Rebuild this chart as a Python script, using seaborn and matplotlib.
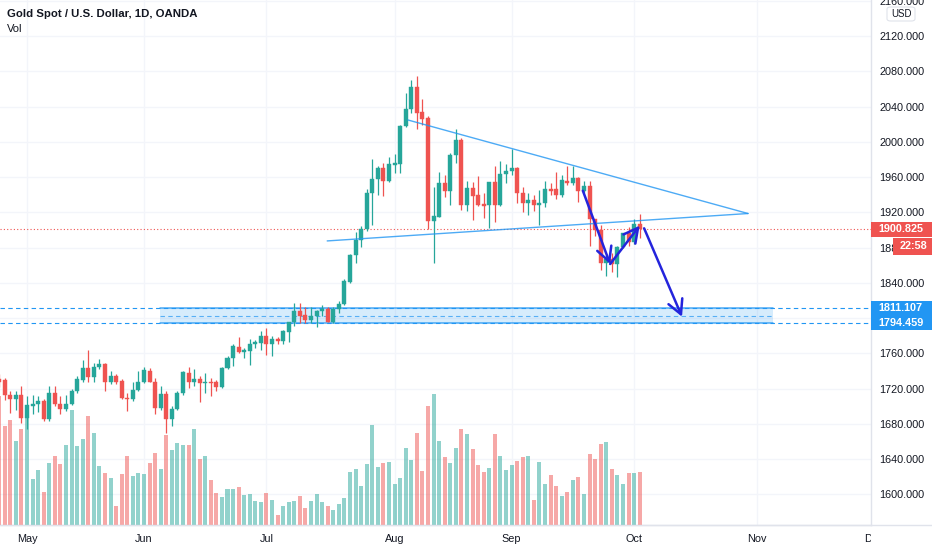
import numpy as np
import pandas as pd
import matplotlib
matplotlib.use("Agg")
import matplotlib.pyplot as plt
import seaborn as sns
from matplotlib.patches import Rectangle, FancyBboxPatch
from matplotlib.lines import Line2D
from matplotlib.ticker import FuncFormatter, FixedLocator

# ---------------- data ----------------
dates = pd.bdate_range("2020-04-24", "2020-10-02")

opens = [1731, 1730, 1713, 1708, 1713, 1687, 1700, 1702, 1706, 1685,
         1715, 1702, 1697, 1703, 1717, 1730, 1743, 1733, 1745, 1748,
         1727, 1734, 1729, 1709, 1708, 1718, 1728, 1740, 1728, 1698,
         1714, 1685, 1697, 1715, 1738, 1727, 1731, 1726, 1727, 1727,
         1722, 1743, 1755, 1767, 1762, 1763, 1771, 1772, 1780, 1770,
         1776, 1774, 1784, 1795, 1808, 1803, 1798, 1802, 1808, 1810,
         1796, 1810, 1816, 1841, 1871, 1888, 1901, 1942, 1958, 1970,
         1955, 1974, 1975, 2018, 2037, 2062, 2034, 2027, 1910, 1915,
         1953, 1944, 1985, 2002, 1928, 1947, 1940, 1929, 1928, 1954,
         1928, 1964, 1967, 1970, 1942, 1930, 1934, 1928, 1931, 1946,
         1946, 1940, 1956, 1953, 1959, 1944, 1950, 1912, 1900, 1862,
         1867, 1861, 1881, 1897, 1886, 1907]
highs = [1737, 1732, 1717, 1717, 1723, 1711, 1713, 1711, 1708, 1723,
         1723, 1712, 1713, 1719, 1734, 1752, 1764, 1749, 1754, 1749,
         1740, 1737, 1731, 1715, 1728, 1740, 1744, 1743, 1732, 1723,
         1717, 1700, 1717, 1740, 1745, 1742, 1734, 1738, 1732, 1730,
         1745, 1757, 1770, 1779, 1766, 1776, 1775, 1785, 1789, 1780,
         1778, 1787, 1796, 1817, 1817, 1813, 1813, 1809, 1815, 1813,
         1812, 1819, 1844, 1873, 1898, 1904, 1946, 1980, 1972, 1976,
         1983, 1986, 2019, 2055, 2070, 2075, 2048, 2029, 1949, 1966,
         1962, 1987, 2015, 2004, 1956, 1954, 1961, 1942, 1954, 1972,
         1978, 1975, 1992, 1971, 1949, 1942, 1940, 1945, 1956, 1953,
         1966, 1962, 1972, 1973, 1960, 1955, 1955, 1912, 1906, 1872,
         1874, 1882, 1897, 1903, 1912, 1918]
lows = [1722, 1707, 1692, 1696, 1681, 1674, 1691, 1693, 1683, 1683,
        1700, 1691, 1694, 1701, 1715, 1728, 1727, 1727, 1742, 1717,
        1725, 1725, 1708, 1694, 1706, 1717, 1726, 1727, 1691, 1696,
        1670, 1677, 1696, 1713, 1721, 1723, 1705, 1715, 1712, 1717,
        1721, 1742, 1746, 1760, 1755, 1747, 1766, 1764, 1758, 1757,
        1771, 1770, 1773, 1791, 1794, 1794, 1794, 1790, 1802, 1795,
        1794, 1806, 1815, 1840, 1863, 1881, 1899, 1906, 1940, 1938,
        1954, 1965, 1965, 2017, 2033, 2014, 2019, 1901, 1862, 1915,
        1937, 1928, 1976, 1923, 1922, 1911, 1927, 1914, 1902, 1909,
        1927, 1953, 1962, 1931, 1920, 1917, 1922, 1906, 1926, 1940,
        1935, 1937, 1951, 1951, 1932, 1942, 1882, 1893, 1855, 1848,
        1852, 1847, 1879, 1882, 1884, 1891]
closes = [1728, 1713, 1708, 1713, 1687, 1701, 1702, 1706, 1685, 1715,
          1702, 1697, 1703, 1717, 1731, 1743, 1733, 1745, 1748, 1727,
          1734, 1728, 1709, 1708, 1718, 1728, 1741, 1728, 1698, 1714,
          1685, 1697, 1715, 1739, 1727, 1731, 1726, 1728, 1726, 1722,
          1743, 1755, 1768, 1761, 1764, 1771, 1773, 1780, 1770, 1776,
          1774, 1785, 1795, 1808, 1802, 1798, 1802, 1808, 1810, 1796,
          1810, 1816, 1842, 1872, 1888, 1901, 1942, 1958, 1970, 1955,
          1975, 1976, 2018, 2037, 2062, 2033, 2026, 1910, 1916, 1953,
          1944, 1985, 2002, 1928, 1947, 1939, 1928, 1927, 1954, 1928,
          1964, 1967, 1970, 1942, 1930, 1934, 1928, 1931, 1946, 1944,
          1940, 1957, 1953, 1959, 1944, 1950, 1912, 1900, 1862, 1867,
          1861, 1881, 1897, 1886, 1907, 1900.825]
volumes_k = [129, 99, 105, 84, 96, 108, 46, 55, 33, 62,
             69, 61, 80, 115, 79, 86, 109, 92, 59, 52,
             47, 19, 51, 69, 49, 52, 51, 62, 72, 56,
             90, 75, 82, 80, 80, 96, 66, 69, 45, 32,
             28, 36, 36, 38, 30, 31, 24, 23, 32, 25,
             10, 19, 23, 24, 29, 17, 24, 31, 23, 19,
             15, 21, 27, 53, 56, 39, 61, 100, 58, 62,
             63, 41, 47, 77, 65, 92, 54, 119, 131, 84,
             68, 62, 77, 96, 91, 76, 60, 53, 57, 91,
             69, 55, 60, 64, 68, 69, 25, 63, 41, 50,
             39, 29, 33, 45, 48, 31, 71, 66, 81, 83,
             56, 50, 41, 52, 52, 53]

price_ticks = list(range(1600, 2161, 40))
month_names = ["May", "Jun", "Jul", "Aug", "Sep", "Oct", "Nov", "Dec"]
title = "Gold Spot / U.S. Dollar, 1D, OANDA"
volume_label = "Vol"

last_price = 1900.825
countdown = "22:58"
zone_levels = [1811.107, 1794.459]
zone_x = [28.9, 138.9]
upper_trend = ([73.4, 134.45], [2024.7, 1918.6])
lower_trend = ([58.9, 134.45], [1887.5, 1918.6])
arrows = [((104.8, 1944.4), (109.7, 1861.3)),
          ((109.7, 1861.3), (115.0, 1904.8)),
          ((115.8, 1901.8), (122.6, 1801.5))]

# ---------------- styling ----------------
W, H, DPI = 932, 550, 100
PLOT_R, PLOT_B = 871, 525
UP, DOWN = "#26a69a", "#ef5350"
TXT = "#131722"
GRID = "#f3f5fa"
BORDER = "#e0e3eb"
BLUE = "#2196f3"
ARROW = "#2424dc"
XLIM = (0.156, 156.53)
YLIM = (1565.2, 2160.85)

sns.set_theme(style="white")
plt.rcParams["font.family"] = ["Liberation Sans", "DejaVu Sans"]

n = len(dates)
pos = np.arange(n)
o = np.array(opens, float); h = np.array(highs, float)
l = np.array(lows, float); c = np.array(closes, float)
up = c >= o
colors = np.where(up, UP, DOWN)

fig = plt.figure(figsize=(W / DPI, H / DPI), dpi=DPI)
rect = [0, (H - PLOT_B) / H, PLOT_R / W, PLOT_B / H]

def fx(x):
    return x / W

def fy(y):
    return 1 - y / H

# background axes: grid + price scale
ax_bg = fig.add_axes(rect)
ax_bg.set_facecolor("white")
ax_bg.set_xlim(*XLIM)
ax_bg.set_ylim(*YLIM)

all_dates = pd.bdate_range("2020-04-24", "2020-12-31")
idx = pd.Series(np.arange(len(all_dates)), index=all_dates)
firsts = idx.groupby(all_dates.to_period("M")).first().iloc[1:]
month_pos = firsts.values

ax_bg.xaxis.set_major_locator(FixedLocator(month_pos))
ax_bg.yaxis.set_major_locator(FixedLocator(price_ticks))
ax_bg.yaxis.set_major_formatter(FuncFormatter(lambda v, p: f"{v:.3f}"))
ax_bg.yaxis.tick_right()
ax_bg.tick_params(axis="y", length=0, pad=5.8, labelsize=7.8, labelcolor=TXT)
ax_bg.tick_params(axis="x", length=0, labelbottom=False)
ax_bg.grid(True, color=GRID, lw=1)
for s in ["top", "left"]:
    ax_bg.spines[s].set_visible(False)
ax_bg.spines["right"].set_color(BORDER)
ax_bg.spines["bottom"].set_color(BORDER)
ax_bg.spines["right"].set_linewidth(1)
ax_bg.spines["bottom"].set_linewidth(1)

# volume axes
ax_vol = fig.add_axes(rect)
ax_vol.patch.set_alpha(0)
vdf = pd.DataFrame({"pos": pos, "vol": volumes_k,
                    "dir": np.where(up, "up", "down")})
sns.barplot(data=vdf, x="pos", y="vol", hue="dir",
            palette={"up": UP, "down": DOWN}, native_scale=True,
            dodge=False, width=0.72, saturation=1, alpha=0.5,
            errorbar=None, legend=False, linewidth=0, ax=ax_vol)
ax_vol.set_xlim(*XLIM)
ax_vol.set_ylim(0, PLOT_B)
ax_vol.axis("off")

# candle axes
ax_c = fig.add_axes(rect)
ax_c.patch.set_alpha(0)
ax_c.vlines(pos, l, h, colors=colors, lw=0.9, zorder=2)
ax_c.bar(pos, np.maximum(np.abs(c - o), 0.6), bottom=np.minimum(o, c),
         width=0.72, color=colors, edgecolor=colors, lw=0.3, zorder=3)

# drawings
ax_c.axhline(last_price, color=DOWN, ls=(0, (1, 2)), lw=0.8, zorder=1)
for lv in zone_levels:
    ax_c.axhline(lv, color=BLUE, ls=(0, (4, 3)), lw=0.8, zorder=1)
ax_c.add_patch(Rectangle((zone_x[0], zone_levels[1]), zone_x[1] - zone_x[0],
                         zone_levels[0] - zone_levels[1], facecolor=BLUE,
                         alpha=0.18, edgecolor="none", zorder=1))
for lv in zone_levels:
    ax_c.plot(zone_x, [lv, lv], color=BLUE, lw=1.1, alpha=0.8, zorder=1)
mid = (zone_levels[0] + zone_levels[1]) / 2
ax_c.plot(zone_x, [mid, mid], color=BLUE, lw=0.8, ls=(0, (4, 3)), alpha=0.7, zorder=1)
ax_c.plot(*upper_trend, color=BLUE, lw=1.0, alpha=0.8, zorder=4)
ax_c.plot(*lower_trend, color=BLUE, lw=1.0, alpha=0.8, zorder=4)
for (x0, y0), (x1, y1) in arrows:
    ax_c.annotate("", xy=(x1, y1), xytext=(x0, y0),
                  arrowprops=dict(arrowstyle="->,head_length=0.85,head_width=0.45",
                                  color=ARROW, lw=1.8, shrinkA=0, shrinkB=0),
                  zorder=5)
ax_c.set_xlim(*XLIM)
ax_c.set_ylim(*YLIM)
ax_c.axis("off")

# time axis labels
ax_t = fig.add_axes([0, 0, PLOT_R / W, (H - PLOT_B) / H])
ax_t.set_xlim(*XLIM)
ax_t.set_ylim(0, 1)
ax_t.axis("off")
for p_, name in zip(month_pos, month_names):
    ax_t.text(p_, 0.45, name, ha="center", va="center", fontsize=7.8,
              color=TXT, clip_on=True)

# border line under whole width
fig.add_artist(Line2D([0, 1], [fy(PLOT_B), fy(PLOT_B)], color=BORDER, lw=1,
                      transform=fig.transFigure))

# title
fig.text(fx(7), fy(14), title, fontsize=8.2, weight="bold", color=TXT, va="center")
fig.text(fx(7), fy(29), volume_label, fontsize=8.0, color=TXT, va="center")

# price tags
fig.canvas.draw()

def ypix(price):
    return H - ax_bg.transData.transform((0, price))[1]

def tag(price, text, color, x0=PLOT_R, hh=15, dy=0.0):
    yc = ypix(price) + dy
    fig.add_artist(Rectangle((fx(x0), fy(yc + hh / 2)), (W - x0) / W, hh / H,
                             transform=fig.transFigure, facecolor=color,
                             edgecolor="none", zorder=10))
    fig.text(fx(x0 + 7), fy(yc), text, color="white", fontsize=7.8,
             weight="bold", va="center", ha="left", zorder=11)

tag(last_price, f"{last_price:.3f}", DOWN)
tag(last_price, countdown, DOWN, x0=893, hh=17, dy=17)
tag(zone_levels[0], f"{zone_levels[0]:.3f}", BLUE)
tag(zone_levels[1], f"{zone_levels[1]:.3f}", BLUE)

# USD box
fig.add_artist(FancyBboxPatch((fx(887), fy(21)), 28 / W, 14 / H,
                              boxstyle="round,pad=0,rounding_size=0.004",
                              transform=fig.transFigure, facecolor="white",
                              edgecolor=BORDER, lw=0.8, zorder=10))
fig.text(fx(901), fy(14), "USD", fontsize=7, color=TXT, ha="center",
         va="center", zorder=11)

fig.savefig("out.png", dpi=DPI)
